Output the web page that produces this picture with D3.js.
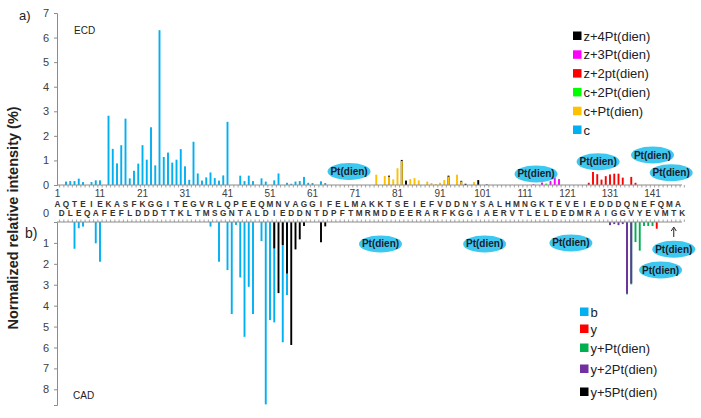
<!DOCTYPE html>
<html>
<head>
<meta charset="utf-8">
<script src="https://cdn.jsdelivr.net/npm/d3@7"></script>
<style>
  body { margin: 0; background: #fff; }
  svg { display: block; font-family: "Liberation Sans", Arial, sans-serif; }
</style>
</head>
<body>
<div id="chart"></div>
<script>
// calmodulin sequence, residues 1..148
const sequence = "ADQLTEEQIAEFKEAFSLFDKDGDGTITTKELGTVMRSLGQNPTEAELQDMINEVDADGNGTIDFPEFLTMMARKMKDTDSEEEIREAFRVFDKDGNGYISAAELRHVMTNLGEKLTDEEVDEMIREADIDGDGQVNYEEFVQMMTAK";
const residueTicks = [1, 11, 21, 31, 41, 51, 61, 71, 81, 91, 101, 111, 121, 131, 141];

// ECD (top) — [residue, intensity %]
const ecdC = [[3,0.14],[4,0.16],[5,0.16],[6,0.26],[7,0.12],[9,0.12],[10,0.19],[11,0.19],
  [13,2.82],[14,1.47],[15,0.88],[16,1.62],[17,2.7],[18,0.27],[19,0.58],[20,0.87],[21,1.62],
  [22,1.03],[23,2.35],[24,0.8],[25,6.3],[26,1.14],[27,1.32],[28,0.91],[29,1.03],[30,1.46],
  [31,0.76],[32,0.21],[33,1.76],[34,0.47],[35,0.18],[36,0.31],[37,0.51],[38,0.28],[39,0.18],
  [40,0.39],[41,2.57],[44,0.38],[45,0.16],[46,0.38],[47,0.16],[49,0.27],[50,0.14],[52,0.19],
  [53,0.47],[55,0.09],[56,0.05],[57,0.14],[58,0.16],[59,0.33],[60,0.09],[61,0.08],[63,0.15],[64,0.08]];
const ecdCPt = [[76,0.42],[78,0.37],[79,0.34],[80,0.23],[81,0.68],[82,0.98],[84,0.24],[85,0.28],
  [86,0.19],[88,0.14],[89,0.08],[90,0.04],[91,0.09],[92,0.2],[93,0.34],[95,0.42],[96,0.14],[99,0.12]];
const ecdC2Pt = [[116,0.06]];
const ecdZ2Pt = [[126,0.09],[127,0.53],[128,0.44],[129,0.22],[130,0.36],[131,0.43],[132,0.46],
  [133,0.46],[134,0.3],[136,0.33],[137,0.09]];
const ecdZ3Pt = [[113,0.03],[115,0.1],[117,0.16],[118,0.3],[119,0.24]];
const ecdZ4Pt = [[79,0.38],[82,1.02],[83,0.18],[93,0.38],[96,0.17],[97,0.05],[100,0.2],[102,0.02]];

// CAD (bottom)
const cadB = [[5,1.28],[6,0.3],[7,0.22],[10,1.02],[11,1.9],[37,0.22],[39,1.9],[41,2.3],[42,4.4],
  [43,0.14],[44,2.65],[45,5.49],[46,3.1],[47,4.4],[49,0.91],[50,8.72],[51,4.69],[52,4.8],
  [54,5.75],[55,3.49]];
const cadY = [[142,0.32]];
const cadYPt = [[135,3.46],[136,2.98],[137,0.96],[138,1.37],[139,0.19],[140,0.19],[141,0.19]];
const cadY2Pt = [[131,0.15],[132,0.1],[133,0.15],[134,0.1],[135,3.41],[136,2.93]];
const cadY5Pt = [[52,1.26],[53,3.4],[54,1.1],[55,2.46],[56,5.88],[57,1.31],[58,0.83],[59,0.19],
  [63,0.97],[64,0.21]];

const ecdSeries = [
  { name: "z+4Pt(dien)", color: "#000000", data: ecdZ4Pt },
  { name: "z+3Pt(dien)", color: "#ff00ff", data: ecdZ3Pt },
  { name: "z+2pt(dien)", color: "#ff0000", data: ecdZ2Pt },
  { name: "c+2Pt(dien)", color: "#00ff00", data: ecdC2Pt },
  { name: "c+Pt(dien)", color: "#ffc000", data: ecdCPt },
  { name: "c", color: "#00b0f0", data: ecdC }
];
const cadSeries = [
  { name: "b", color: "#00b0f0", data: cadB },
  { name: "y", color: "#ff0000", data: cadY },
  { name: "y+Pt(dien)", color: "#00b050", data: cadYPt },
  { name: "y+2Pt(dien)", color: "#7030a0", data: cadY2Pt },
  { name: "y+5Pt(dien)", color: "#000000", data: cadY5Pt }
];

// Pt(dien) labels: [residue, intensity]
const ecdPtLabels = [[69.6, 0.55], [113.6, 0.45], [128.2, 0.95], [141, 1.22], [145.4, 0.5]];
const cadPtLabels = [[77, 1.05], [101.5, 1.05], [121.8, 1.0], [146, 1.3], [142.9, 2.3]];

const W = 701, H = 418;
const svg = d3.select("#chart").append("svg").attr("width", W).attr("height", H);

const x = d3.scaleLinear().domain([1, 148]).range([57.5, 682.25]);
const yTop = d3.scaleLinear().domain([0, 7]).range([185, 13]);
const yBot = d3.scaleLinear().domain([0, 8.75]).range([222, 405]);
const barW = 1.9;
const axisColor = "#8c8c8c";

function drawBars(g, series, y) {
  const bars = [];
  series.forEach(s => s.data.forEach(d => bars.push({ r: d[0], v: d[1], color: s.color })));
  bars.sort((a, b) => b.v - a.v);
  g.selectAll("rect").data(bars).join("rect")
    .attr("x", d => x(d.r) - barW / 2)
    .attr("width", barW)
    .attr("y", d => Math.min(y(0), y(d.v)))
    .attr("height", d => Math.abs(y(d.v) - y(0)))
    .attr("fill", d => d.color);
}

// residue axis with a small mark per residue
function residueAxis(yPos, dir) {
  const g = svg.append("g");
  g.append("line").attr("x1", 57).attr("x2", 682).attr("y1", yPos).attr("y2", yPos)
    .attr("stroke", axisColor).attr("stroke-width", 1);
  g.selectAll("line.m").data(d3.range(1, 149)).join("line").attr("class", "m")
    .attr("x1", d => x(d) + 2.1).attr("x2", d => x(d) + 2.1)
    .attr("y1", yPos).attr("y2", yPos + dir * 2.5)
    .attr("stroke", axisColor).attr("stroke-width", 0.8);
}

// ---- top panel (ECD)
const gTopBars = svg.append("g");
drawBars(gTopBars, ecdSeries, yTop);
residueAxis(185, 1);
svg.append("g").attr("transform", "translate(57,0)")
  .call(d3.axisLeft(yTop).tickValues(d3.range(0, 8)).tickSize(3).tickPadding(5).tickFormat(d3.format("d")))
  .call(g => g.select(".domain").attr("stroke", axisColor))
  .call(g => g.selectAll(".tick line").attr("stroke", axisColor))
  .call(g => g.selectAll("text").attr("font-size", 11).attr("fill", "#404040").attr("font-family", "Liberation Sans, Arial"));

svg.append("g").selectAll("text").data(residueTicks).join("text")
  .attr("x", d => x(d)).attr("y", 197)
  .attr("text-anchor", "middle").attr("font-size", 10).attr("fill", "#404040")
  .text(d => d);

// sequence rows
const seqData = sequence.split("").map((aa, i) => ({ aa, r: i + 1 }));
svg.append("g").selectAll("text").data(seqData).join("text")
  .attr("x", d => x(d.r)).attr("y", d => d.r % 2 ? 207 : 216)
  .attr("text-anchor", "middle").attr("font-size", 8.2).attr("font-weight", "bold")
  .attr("fill", "#333").text(d => d.aa);

// ---- bottom panel (CAD)
const gBotBars = svg.append("g");
drawBars(gBotBars, cadSeries, yBot);
residueAxis(222, -1);
svg.append("g").attr("transform", "translate(57,0)")
  .call(d3.axisLeft(yBot).tickValues(d3.range(1, 9)).tickSize(3).tickPadding(5).tickFormat(d3.format("d")))
  .call(g => g.select(".domain").attr("stroke", axisColor))
  .call(g => g.selectAll(".tick line").attr("stroke", axisColor))
  .call(g => g.selectAll("text").attr("font-size", 11).attr("fill", "#404040").attr("font-family", "Liberation Sans, Arial"));
svg.append("text").attr("x", 49).attr("y", 217).attr("text-anchor", "end")
  .attr("font-size", 11).attr("fill", "#404040").text("0");

// panel labels
svg.append("text").attr("x", 19).attr("y", 20).attr("font-size", 13).attr("fill", "#222").text("a)");
svg.append("text").attr("x", 25).attr("y", 238).attr("font-size", 14).attr("fill", "#222").text("b)");
svg.append("text").attr("x", 74).attr("y", 34).attr("font-size", 10).attr("fill", "#222").text("ECD");
svg.append("text").attr("x", 73).attr("y", 399).attr("font-size", 10).attr("fill", "#222").text("CAD");

svg.append("text")
  .attr("transform", "translate(18,218) rotate(-90)")
  .attr("text-anchor", "middle").attr("font-size", 14.5).attr("font-weight", "bold")
  .attr("fill", "#222").text("Normalized relative intensity (%)");

// Pt(dien) bubbles
function ptBubble(cx, cy) {
  const g = svg.append("g").attr("transform", `translate(${cx},${cy})`);
  g.append("ellipse").attr("rx", 21.5).attr("ry", 8.5).attr("fill", "#3dc8ef");
  g.append("text").attr("y", 3.5).attr("text-anchor", "middle").attr("font-size", 10)
    .attr("font-weight", "bold").attr("fill", "#1a1a2e").text("Pt(dien)");
}
ecdPtLabels.forEach(d => ptBubble(x(d[0]), yTop(d[1])));
cadPtLabels.forEach(d => ptBubble(x(d[0]), yBot(d[1])));

// arrow under residue 146
const ax = x(146);
svg.append("line").attr("x1", ax).attr("x2", ax).attr("y1", 237).attr("y2", 228.5)
  .attr("stroke", "#222").attr("stroke-width", 1);
svg.append("path").attr("d", `M${ax - 2.5},${231} L${ax},${227} L${ax + 2.5},${231}`)
  .attr("fill", "none").attr("stroke", "#222").attr("stroke-width", 1);

// legends
function legend(items, lx, ly, rowH) {
  const g = svg.append("g");
  items.forEach((s, i) => {
    const yy = ly + (Array.isArray(rowH) ? rowH[i] : i * rowH);
    g.append("rect").attr("x", lx).attr("y", yy - 4.5).attr("width", 8.5).attr("height", 8.5).attr("fill", s.color);
    g.append("text").attr("x", lx + 10.5).attr("y", yy + 4.5).attr("font-size", 13).attr("fill", "#222").text(s.name);
  });
}
legend(ecdSeries, 573, 36, 18.8);
legend(cadSeries, 580, 312, [0, 17, 36, 57, 80]);
</script>
</body>
</html>
